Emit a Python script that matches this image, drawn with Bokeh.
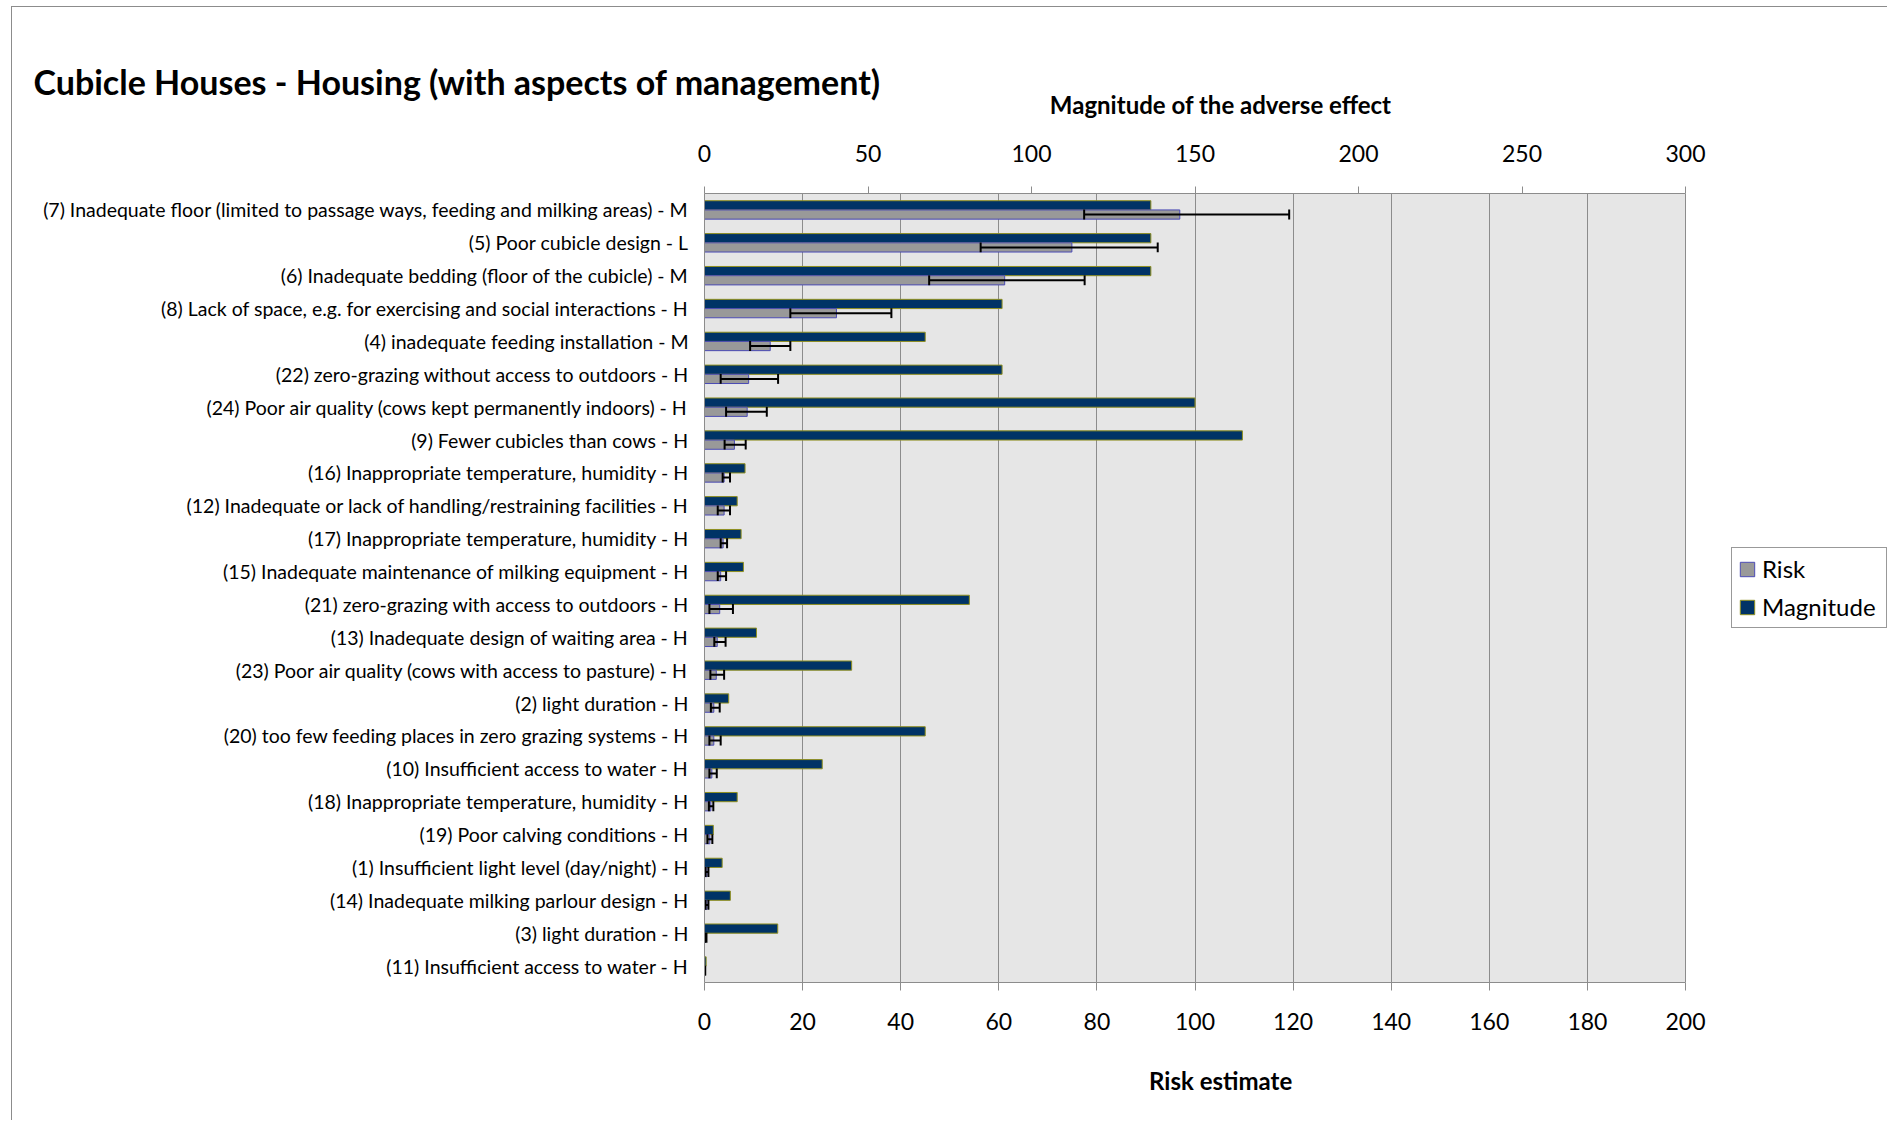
from bokeh.plotting import figure
from bokeh.models import (ColumnDataSource, Range1d, LinearAxis, FactorRange, FixedTicker,
                          Legend, LegendItem, BoxAnnotation)
from bokeh.transform import dodge
from bokeh.embed import file_html
from bokeh.resources import INLINE

categories = [
    "(7) Inadequate floor (limited to passage ways, feeding and milking areas) - M",
    "(5) Poor cubicle design - L",
    "(6) Inadequate bedding (floor of the cubicle) - M",
    "(8) Lack of space, e.g. for exercising and social interactions - H",
    "(4) inadequate feeding installation - M",
    "(22) zero-grazing without access to outdoors - H",
    "(24) Poor air quality (cows kept permanently indoors) - H",
    "(9) Fewer cubicles than cows - H",
    "(16) Inappropriate temperature, humidity - H",
    "(12) Inadequate or lack of handling/restraining facilities - H",
    "(17) Inappropriate temperature, humidity - H",
    "(15) Inadequate maintenance of milking equipment - H",
    "(21) zero-grazing with access to outdoors - H",
    "(13) Inadequate design of waiting area - H",
    "(23) Poor air quality (cows with access to pasture) - H",
    "(2) light duration - H",
    "(20) too few feeding places in zero grazing systems - H",
    "(10) Insufficient access to water - H",
    "(18) Inappropriate temperature, humidity - H",
    "(19) Poor calving conditions - H",
    "(1) Insufficient light level (day/night) - H",
    "(14) Inadequate milking parlour design - H",
    "(3) light duration - H",
    "(11) Insufficient access to water - H",
]
magnitude = [136.5, 136.5, 136.5, 91, 67.5, 91, 150, 164.5, 12.4, 10, 11.2, 11.9,
             81, 15.9, 45, 7.4, 67.5, 36, 10, 2.7, 5.4, 7.9, 22.4, 0.5]
risk = [96.9, 74.9, 61.2, 26.9, 13.4, 9.0, 8.7, 6.1, 4.0, 4.0, 3.8, 3.3,
        3.1, 2.6, 2.4, 1.9, 1.9, 1.5, 1.3, 1.1, 0.5, 0.5, 0.2, 0.1]
risk_low = [77.4, 56.3, 45.8, 17.5, 9.3, 3.3, 4.4, 4.1, 3.7, 2.7, 3.3, 2.7,
            1.0, 2.0, 1.2, 1.3, 1.0, 1.0, 0.9, 0.6, 0.2, 0.2, 0.1, 0.05]
risk_high = [119.2, 92.4, 77.5, 38.1, 17.5, 15.0, 12.7, 8.4, 5.2, 5.2, 4.6, 4.4,
             5.8, 4.3, 4.0, 3.1, 3.3, 2.5, 1.8, 1.6, 0.8, 0.8, 0.4, 0.15]
risk_ticks = [0, 20, 40, 60, 80, 100, 120, 140, 160, 180, 200]
magnitude_ticks = [0, 50, 100, 150, 200, 250, 300]
risk_max = 200
magnitude_max = 300

title_text = "Cubicle Houses - Housing (with aspects of management)"
top_title = "Magnitude of the adverse effect"
bottom_title = "Risk estimate"

FONT = "Lato"
PAD = "\u00a0" * 26   # shifts the centred axis titles left, over the grey plot area

# layout geometry (pixels)
W, H = 1876, 1114
BORDER_LEFT, BORDER_TOP, BORDER_BOTTOM = 692, 186, 139
PLOT_AREA_W = 981            # width of the grey plot area
FRAME_W = W - BORDER_LEFT    # frame runs to the right edge so the legend fits inside it
ext = FRAME_W / PLOT_AREA_W

p = figure(width=W, height=H,
           y_range=FactorRange(factors=categories[::-1]),
           x_range=Range1d(0, risk_max * ext),
           output_backend="svg", toolbar_location=None,
           min_border_left=BORDER_LEFT, min_border_right=0,
           min_border_top=BORDER_TOP, min_border_bottom=BORDER_BOTTOM)
p.extra_x_ranges = {"mag": Range1d(0, magnitude_max * ext)}
p.background_fill_color = "white"
p.border_fill_color = "white"
p.outline_line_color = None

area = BoxAnnotation(left=0, right=risk_max, fill_color="#e6e6e6", fill_alpha=1,
                     line_color=None, level="image")
p.add_layout(area)

src = ColumnDataSource(dict(cat=categories, mag=magnitude, risk=risk,
                            lo=risk_low, hi=risk_high))

r_mag = p.hbar(y=dodge("cat", 0.14, range=p.y_range), left=0, right="mag", height=0.28,
               x_range_name="mag", fill_color="#003366", line_color="#8f8f1f",
               line_width=1, source=src)
r_risk = p.hbar(y=dodge("cat", -0.14, range=p.y_range), left=0, right="risk", height=0.28,
                fill_color="#999999", line_color="#4b4bb4", line_width=1, source=src)

# error bars
p.segment(x0="lo", x1="hi", y0=dodge("cat", -0.14, range=p.y_range),
          y1=dodge("cat", -0.14, range=p.y_range), line_color="black", line_width=2, source=src)
p.segment(x0="lo", x1="lo", y0=dodge("cat", -0.29, range=p.y_range),
          y1=dodge("cat", 0.01, range=p.y_range), line_color="black", line_width=2, source=src)
p.segment(x0="hi", x1="hi", y0=dodge("cat", -0.29, range=p.y_range),
          y1=dodge("cat", 0.01, range=p.y_range), line_color="black", line_width=2, source=src)

# bottom axis (risk)
bx = p.below[0]
bx.ticker = FixedTicker(ticks=risk_ticks)
bx.bounds = (0, risk_max)
bx.axis_label = bottom_title + PAD
bx.axis_label_text_font = FONT
bx.axis_label_text_font_style = "bold"
bx.axis_label_text_font_size = "24px"
bx.axis_label_text_color = "black"
bx.axis_label_standoff = 33
bx.major_label_text_font = FONT
bx.major_label_text_font_size = "23px"
bx.major_label_text_color = "black"
bx.major_label_standoff = 22
bx.axis_line_color = "#8c8c8c"
bx.major_tick_line_color = "#8c8c8c"
bx.major_tick_out = 8
bx.major_tick_in = 0
bx.minor_tick_line_color = None

# top axis (magnitude)
tx = LinearAxis(x_range_name="mag", ticker=FixedTicker(ticks=magnitude_ticks),
                bounds=(0, magnitude_max))
tx.axis_label = top_title + PAD
tx.axis_label_text_font = FONT
tx.axis_label_text_font_style = "bold"
tx.axis_label_text_font_size = "24px"
tx.axis_label_text_color = "black"
tx.axis_label_standoff = 23
tx.major_label_text_font = FONT
tx.major_label_text_font_size = "23px"
tx.major_label_text_color = "black"
tx.major_label_standoff = 25
tx.axis_line_color = "#8c8c8c"
tx.major_tick_line_color = "#8c8c8c"
tx.major_tick_out = 7
tx.major_tick_in = 0
tx.minor_tick_line_color = None
p.add_layout(tx, "above")

# left axis (categories)
ly = p.left[0]
ly.major_label_text_font = FONT
ly.major_label_text_font_size = "19.5px"
ly.major_label_text_color = "black"
ly.major_label_standoff = 10
ly.axis_line_color = "#8c8c8c"
ly.major_tick_line_color = None
ly.minor_tick_line_color = None

p.xgrid.grid_line_color = "#8c8c8c"
p.xgrid.ticker = FixedTicker(ticks=risk_ticks)
p.xgrid.bounds = (0, risk_max)
p.ygrid.grid_line_color = None

legend = Legend(items=[LegendItem(label="Risk", renderers=[r_risk]),
                       LegendItem(label="Magnitude", renderers=[r_mag])],
                location=(1027, 354))
legend.label_text_font = FONT
legend.label_text_font_size = "24px"
legend.label_text_color = "black"
legend.glyph_width = 18
legend.glyph_height = 18
legend.label_height = 28
legend.label_width = 118
legend.label_standoff = 6
legend.spacing = 9
legend.padding = 6
legend.margin = 0
legend.border_line_color = "#333333"
legend.border_line_width = 1
legend.background_fill_color = "white"
legend.background_fill_alpha = 1
p.add_layout(legend)

p.title.text = title_text
p.title.align = "left"
p.title.offset = -671
p.title.standoff = -30
p.title.text_font = FONT
p.title.text_font_style = "bold"
p.title.text_font_size = "34px"
p.title.text_color = "black"

p.styles = {"border-top": "1px solid #8c8c8c", "border-left": "1px solid #8c8c8c",
            "margin-left": "11px", "margin-top": "6px"}

open("out.html", "w").write(file_html(p, INLINE))
